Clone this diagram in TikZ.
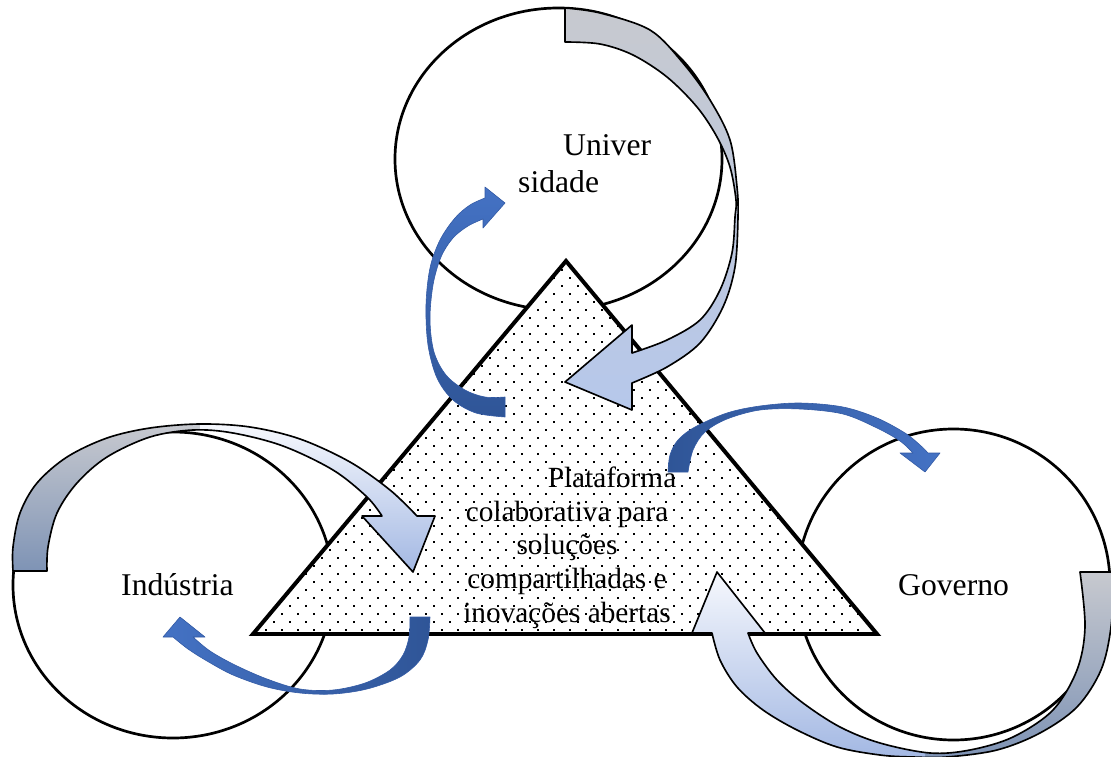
\documentclass[tikz,border=0pt]{standalone}
\usepackage{fontspec}
\setmainfont{Liberation Serif}
\usetikzlibrary{shapes.geometric}
\definecolor{dkblue}{RGB}{47,85,151}
\definecolor{mdblue}{RGB}{68,114,196}
\definecolor{blueline}{RGB}{50,90,165}
\definecolor{greyL}{RGB}{199,201,207}
\definecolor{greyM}{RGB}{168,180,202}
\definecolor{greyB}{RGB}{126,147,181}
\definecolor{paleW}{RGB}{246,248,253}
\definecolor{ltblue}{RGB}{163,184,227}
\definecolor{ltblueB}{RGB}{182,200,235}

\def\arrA{plot[smooth,tension=0.55] coordinates {(565,8) (600,13) (650,30) (683,63) (710,100) (730,140) (737,187) (738,217) (735,267) (723,307) (700,343) (667,367) (632,383)} -- (632,410) -- (565,382) -- (632,325) -- (632,353) -- plot[smooth,tension=0.55] coordinates {(632,353) (667,340) (700,320) (720,290) (732,253) (735,217) (736,200) (730,167) (717,137) (697,107) (667,77) (633,55) (600,44) (565,42)} -- cycle}
\def\arrB{plot[smooth,tension=0.55] coordinates {(505,417) (476,413) (453,400) (437,378) (428,345) (426,305) (430,268) (440,240) (455,218) (470,205) (485,198)} -- (485,187) -- (505,203) -- (483,228) -- (483,219) -- plot[smooth,tension=0.55] coordinates {(483,219) (468,226) (453,238) (441,257) (433,285) (430,320) (434,352) (446,375) (465,390) (485,397) (505,397)} -- cycle}
\def\arrC{plot[smooth,tension=0.55] coordinates {(13,571) (13,547) (20,513) (37,483) (67,457) (107,438) (150,428) (200,424) (250,427) (300,439) (350,462) (390,490) (417,516)} -- (435,516) -- (413,572) -- (362,516) -- (382,516) -- plot[smooth,tension=0.55] coordinates {(382,516) (367,497) (333,470) (283,446) (233,433) (193,430) (150,437) (107,457) (77,483) (57,513) (48,547) (47,571)} -- cycle}
\def\arrD{plot[smooth,tension=0.55] coordinates {(430,617) (428,640) (420,660) (400,677) (367,689) (333,694) (300,693) (267,687) (233,675) (207,661) (188,649) (173,637)} -- (163,637) -- (180,617) -- (205,637) -- (193,637) -- plot[smooth,tension=0.55] coordinates {(193,637) (210,651) (235,665) (267,679) (300,689) (333,690) (365,683) (390,670) (403,655) (409,637) (410,617)} -- cycle}
\def\arrE{plot[smooth,tension=0.55] coordinates {(668,472) (670,455) (678,440) (695,427) (727,413) (760,406) (800,403) (843,407) (877,418) (905,433) (920,445) (928,453)} -- (940,453) -- (925,472) -- (900,453) -- (913,453) -- plot[smooth,tension=0.55] coordinates {(913,453) (900,441) (877,428) (843,414) (800,409) (760,410) (727,419) (705,432) (693,450) (688,472)} -- cycle}
\def\arrF{plot[smooth,tension=0.55] coordinates {(1114,572) (1111,627) (1101,670) (1077,707) (1040,733) (997,750) (947,757) (913,757) (880,755) (837,747) (797,730) (763,710) (737,687) (720,660) (712,633)} -- (692,633) -- (717,572) -- (765,633) -- (748,633) -- plot[smooth,tension=0.55] coordinates {(748,633) (757,653) (777,680) (803,703) (840,727) (880,743) (930,753) (970,750) (1013,737) (1053,710) (1077,670) (1085,627) (1080,572)} -- cycle}

\begin{document}
\begin{tikzpicture}[x=0.03cm,y=-0.03cm,
  ring/.style={ellipse, draw=black, line width=2.3pt, inner sep=0pt},
  lbl/.style={anchor=base west, inner sep=0pt, font=\fontsize{27}{31}\selectfont},
  plat/.style={anchor=base, inner sep=0pt, font=\fontsize{25}{29}\selectfont},
  lightarrow/.style={draw=black, line width=1.4pt, line join=round},
  bluearrow/.style={draw=blueline, line width=0.5pt, line join=round}]
\useasboundingbox (0,0) rectangle (1111,757);
\fill[white] (0,0) rectangle (1111,757);

% circles
\node[ring, minimum width=9.81cm, minimum height=9.06cm] (uni) at (558.5,159) {};
\node[ring, minimum width=9.60cm, minimum height=9.18cm] (ind) at (173,585) {};
\node[ring, minimum width=9.39cm, minimum height=9.33cm] (gov) at (953.5,584.5) {};

% triangle
\coordinate (apex) at (566,261);
\coordinate (bl) at (253,634);
\coordinate (br) at (877,634);
\fill[white] (apex) -- (bl) -- (br) -- cycle;
\begin{scope}
  \clip (apex) -- (bl) -- (br) -- cycle;
  \foreach \r in {0,...,47} {
    \foreach \c in {0,...,40} {
      \fill[black] ({249+16*\c+8*mod(\r,2)},{261+8*\r}) rectangle ++(2,2);
    }
  }
\end{scope}
\draw[line width=3.4pt, line join=miter] (apex) -- (bl) -- (br) -- cycle;

% arrow A (universidade -> platform)
\shade[top color=greyL, middle color=greyM, bottom color=ltblueB] \arrA;
\draw[lightarrow] \arrA;

% arrow B (platform -> universidade)
\shade[top color=mdblue, bottom color=dkblue] \arrB;
\draw[bluearrow] \arrB;

% arrow C (industria -> platform)
\begin{scope}
  \clip (0,0) rectangle (200,757);
  \shade[top color=greyL, bottom color=greyB] \arrC;
\end{scope}
\begin{scope}
  \clip (200,0) rectangle (1111,757);
  \shade[top color=paleW, bottom color=ltblue] \arrC;
\end{scope}
\draw[lightarrow] \arrC;

% arrow D (platform -> industria)
\shade[left color=mdblue, right color=dkblue] \arrD;
\draw[bluearrow] \arrD;

% arrow E (platform -> governo)
\shade[left color=dkblue, right color=mdblue] \arrE;
\draw[bluearrow] \arrE;

% arrow F (governo -> platform)
\begin{scope}
  \clip (925,0) rectangle (1200,800);
  \shade[top color=greyL, bottom color=greyB] \arrF;
\end{scope}
\begin{scope}
  \clip (0,0) rectangle (925,800);
  \shade[top color=paleW, bottom color=ltblue] \arrF;
\end{scope}
\draw[lightarrow] \arrF;

% texts
\node[lbl] (tuniv) at (563,155) {Univer};
\node[lbl] (tsid) at (518,192) {sidade};
\node[lbl] (tind) at (121,595) {Indústria};
\node[lbl] (tgov) at (898,595) {Governo};

\node[plat] (p1) at (612,487) {Plataforma};
\node[plat] (p2) at (567,521) {colaborativa para};
\node[plat] (p3) at (567,554) {soluções};
\node[plat] (p4) at (567,588) {compartilhadas e};
\node[plat] (p5) at (567,622) {inovações abertas};
\end{tikzpicture}
\end{document}
